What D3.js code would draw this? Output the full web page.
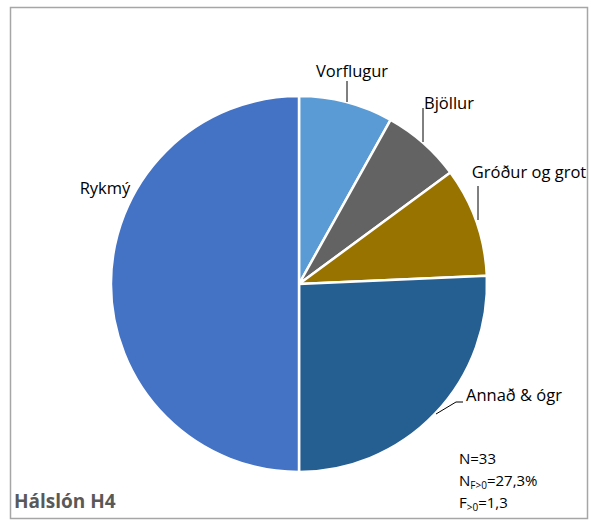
<!DOCTYPE html>
<html>
<head>
<meta charset="utf-8">
<script src="https://cdn.jsdelivr.net/npm/d3@7"></script>
<style>
  html, body { margin: 0; padding: 0; background: #fff; }
  svg { display: block; }
  text { font-family: "Open Sans", "Noto Sans", sans-serif; }
</style>
</head>
<body>
<svg id="chart" width="594" height="521"></svg>
<script>
// Diet composition shares (%), clockwise from 12 o'clock
const categories = ["Vorflugur", "Bjöllur", "Gróður og grot", "Annað & ógr", "Rykmý"];
const shares = [8.1, 6.8, 9.4, 25.7, 50.0];
const colors = ["#5b9bd5", "#636363", "#997300", "#255e91", "#4472c4"];
const title = "Hálslón H4";
const statsN = "33";
const statsPct = "27,3%";
const statsF = "1,3";

const svg = d3.select("#chart");

// chart frame
svg.append("rect")
  .attr("x", 10.5).attr("y", 7.5)
  .attr("width", 577).attr("height", 511)
  .attr("fill", "#fff")
  .attr("stroke", "#a6a6a6")
  .attr("stroke-width", 1.5);

const cx = 299, cy = 284, R = 188;
const g = svg.append("g").attr("transform", `translate(${cx},${cy})`);

const data = categories.map((c, i) => ({ name: c, value: shares[i], color: colors[i] }));
const pie = d3.pie().value(d => d.value).sort(null);
const arc = d3.arc().innerRadius(0).outerRadius(R);
const arcs = pie(data);

g.selectAll("path.slice")
  .data(arcs)
  .join("path")
  .attr("class", "slice")
  .attr("d", arc)
  .attr("fill", d => d.data.color)
  .attr("stroke", "#fff")
  .attr("stroke-width", 2.5)
  .attr("stroke-linejoin", "round");

// label placement (page coordinates) and leader lines
const labelPos = {
  "Vorflugur":       { x: 352, y: 77,  anchor: "middle", leader: [[347, 81], [347, 102]] },
  "Bjöllur":         { x: 449, y: 109, anchor: "middle", leader: [[423, 108], [423, 142]] },
  "Gróður og grot":  { x: 529, y: 178, anchor: "middle", leader: [[478, 186], [478, 220]] },
  "Annað & ógr":     { x: 466, y: 401, anchor: "start",  leader: [[463, 402], [456, 402], [436, 414]] },
  "Rykmý":           { x: 105, y: 194, anchor: "middle", leader: null }
};

const lineGen = d3.line();
arcs.forEach(a => {
  const p = labelPos[a.data.name];
  if (p.leader) {
    g.append("path")
      .attr("d", lineGen(p.leader.map(([x, y]) => [x - cx, y - cy])))
      .attr("fill", "none")
      .attr("stroke", "#000")
      .attr("stroke-width", 1);
  }
  g.append("text")
    .attr("x", p.x - cx).attr("y", p.y - cy)
    .attr("text-anchor", p.anchor)
    .attr("font-size", 16.5)
    .attr("fill", "#000")
    .text(a.data.name);
});

// title
svg.append("text")
  .attr("x", 14).attr("y", 508)
  .attr("font-size", 19)
  .attr("font-weight", "bold")
  .attr("fill", "#595959")
  .text(title);

// summary statistics
const st = svg.append("g").attr("font-size", 15).attr("fill", "#000");
st.append("text").attr("x", 459).attr("y", 464).text("N=" + statsN);
const t2 = st.append("text").attr("x", 459).attr("y", 486);
t2.append("tspan").text("N");
t2.append("tspan").attr("font-size", 10).attr("dy", 3).text("F>0");
t2.append("tspan").attr("dy", -3).text("=" + statsPct);
const t3 = st.append("text").attr("x", 459).attr("y", 508);
t3.append("tspan").text("F");
t3.append("tspan").attr("font-size", 10).attr("dy", 3).text(">0");
t3.append("tspan").attr("dy", -3).text("=" + statsF);
</script>
</body>
</html>
